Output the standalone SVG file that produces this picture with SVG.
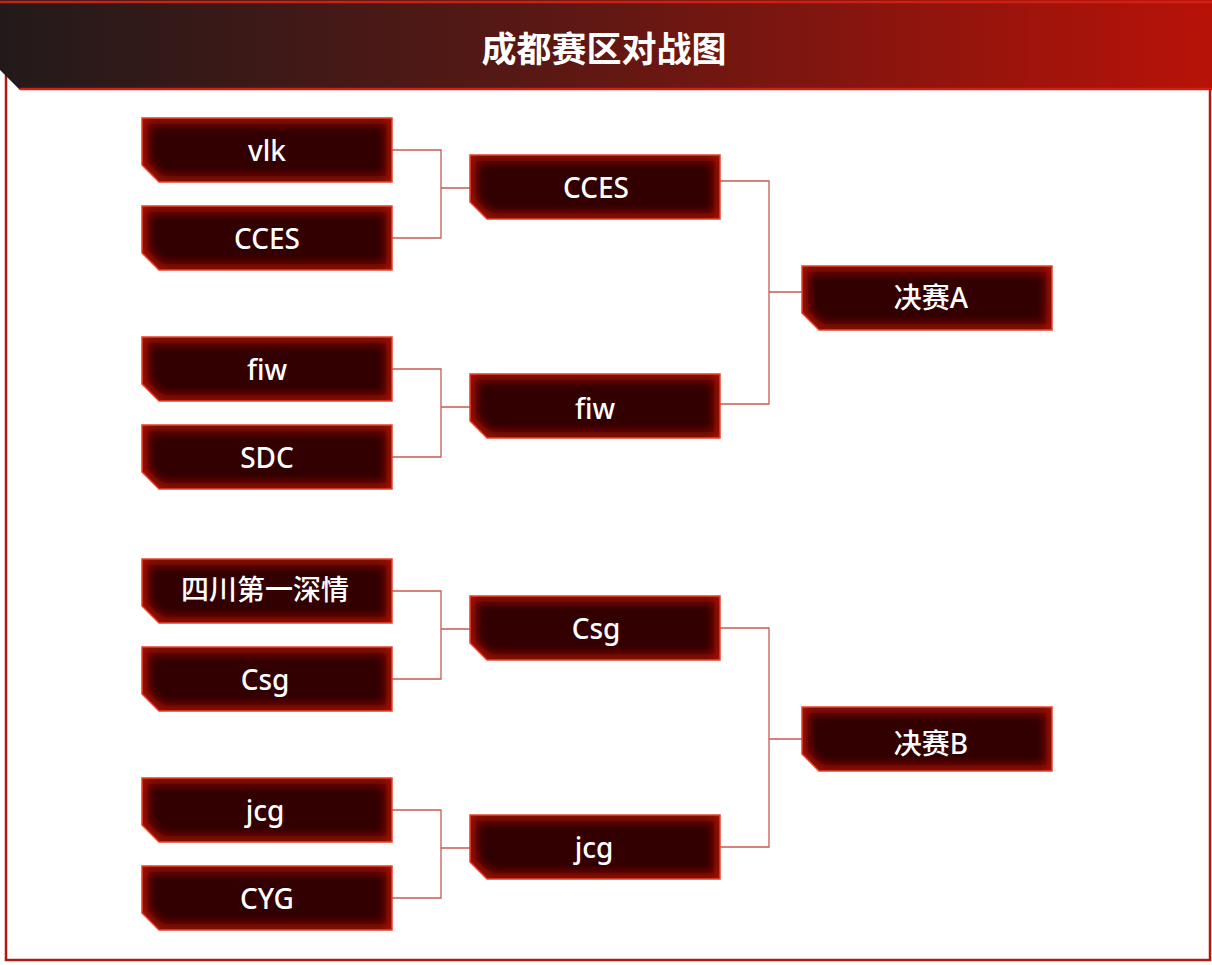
<svg xmlns="http://www.w3.org/2000/svg" width="1212" height="965" viewBox="0 0 1212 965">
<defs>
<linearGradient id="hg" x1="0" x2="1" y1="0" y2="0"><stop offset="0" stop-color="#221a1a"/><stop offset="0.45" stop-color="#5a1814"/><stop offset="1" stop-color="#b81208"/></linearGradient>
<filter id="ig" x="-5%" y="-10%" width="110%" height="120%"><feFlood flood-color="#d01c0a"/><feComposite in2="SourceAlpha" operator="out"/><feGaussianBlur stdDeviation="7"/><feComposite in2="SourceAlpha" operator="in"/><feMerge><feMergeNode in="SourceGraphic"/><feMergeNode/></feMerge></filter>
<path id="box" d="M0,0 H250 V64 H17 L0,47 Z"/>
</defs>
<style>
.n use{fill:#300000;filter:url(#ig)}
.n .o{fill:none;stroke:#e8402c;stroke-width:1.5;filter:none}
.n text{font-family:"Noto Sans","Noto Sans CJK SC",sans-serif;font-weight:500;font-size:28px;fill:#fff;text-anchor:middle;dominant-baseline:central}
.c path{fill:none;stroke:#c75a52;stroke-width:1.3}
</style>
<rect width="1212" height="965" fill="#fff"/>
<path d="M6,75 V960 H1210 V10" fill="none" stroke="#b01810" stroke-width="2.5"/>
<g id="header">
<path d="M0,0 H1212 V90 H20 L0,70 Z" fill="url(#hg)"/>
<path d="M0,2 H1212 M20,89 H1212" stroke="#d02014" stroke-width="2.5"/>
<text x="604" y="46" font-family="Noto Sans CJK SC,sans-serif" font-weight="bold" font-size="35" fill="#fff" text-anchor="middle" dominant-baseline="central">成都赛区对战图</text>
</g>
<g class="c" id="connectors">
<path d="M391,150 H441 V238 H391 M441,188 H470"/>
<path d="M391,369 H441 V457 H391 M441,407 H470"/>
<path d="M391,591 H441 V679 H391 M441,629 H470"/>
<path d="M391,810 H441 V898 H391 M441,848 H470"/>
<path d="M719,181 H769 V404 H719 M769,292 H802"/>
<path d="M719,628 H769 V847 H719 M769,739 H802"/>
</g>
<g class="n" id="n1" transform="translate(142,118)"><use href="#box"/><use class="o" href="#box"/><text x="125" y="32">vlk</text></g>
<g class="n" id="n2" transform="translate(142,206)"><use href="#box"/><use class="o" href="#box"/><text x="125" y="32">CCES</text></g>
<g class="n" id="n3" transform="translate(142,337)"><use href="#box"/><use class="o" href="#box"/><text x="125" y="32">fiw</text></g>
<g class="n" id="n4" transform="translate(142,425)"><use href="#box"/><use class="o" href="#box"/><text x="125" y="32">SDC</text></g>
<g class="n" id="n5" transform="translate(142,559)"><use href="#box"/><use class="o" href="#box"/><text x="123" y="30">四川第一深情</text></g>
<g class="n" id="n6" transform="translate(142,647)"><use href="#box"/><use class="o" href="#box"/><text x="123" y="32">Csg</text></g>
<g class="n" id="n7" transform="translate(142,778)"><use href="#box"/><use class="o" href="#box"/><text x="123" y="32">jcg</text></g>
<g class="n" id="n8" transform="translate(142,866)"><use href="#box"/><use class="o" href="#box"/><text x="125" y="32">CYG</text></g>
<g class="n" id="s1" transform="translate(470,155)"><use href="#box"/><use class="o" href="#box"/><text x="126" y="32">CCES</text></g>
<g class="n" id="s2" transform="translate(470,374)"><use href="#box"/><use class="o" href="#box"/><text x="125" y="34">fiw</text></g>
<g class="n" id="s3" transform="translate(470,596)"><use href="#box"/><use class="o" href="#box"/><text x="126" y="32">Csg</text></g>
<g class="n" id="s4" transform="translate(470,815)"><use href="#box"/><use class="o" href="#box"/><text x="124" y="32">jcg</text></g>
<g class="n" id="fA" transform="translate(802,266)"><use href="#box"/><use class="o" href="#box"/><text x="129" y="31">决赛A</text></g>
<g class="n" id="fB" transform="translate(802,707)"><use href="#box"/><use class="o" href="#box"/><text x="129" y="36">决赛B</text></g>
</svg>
